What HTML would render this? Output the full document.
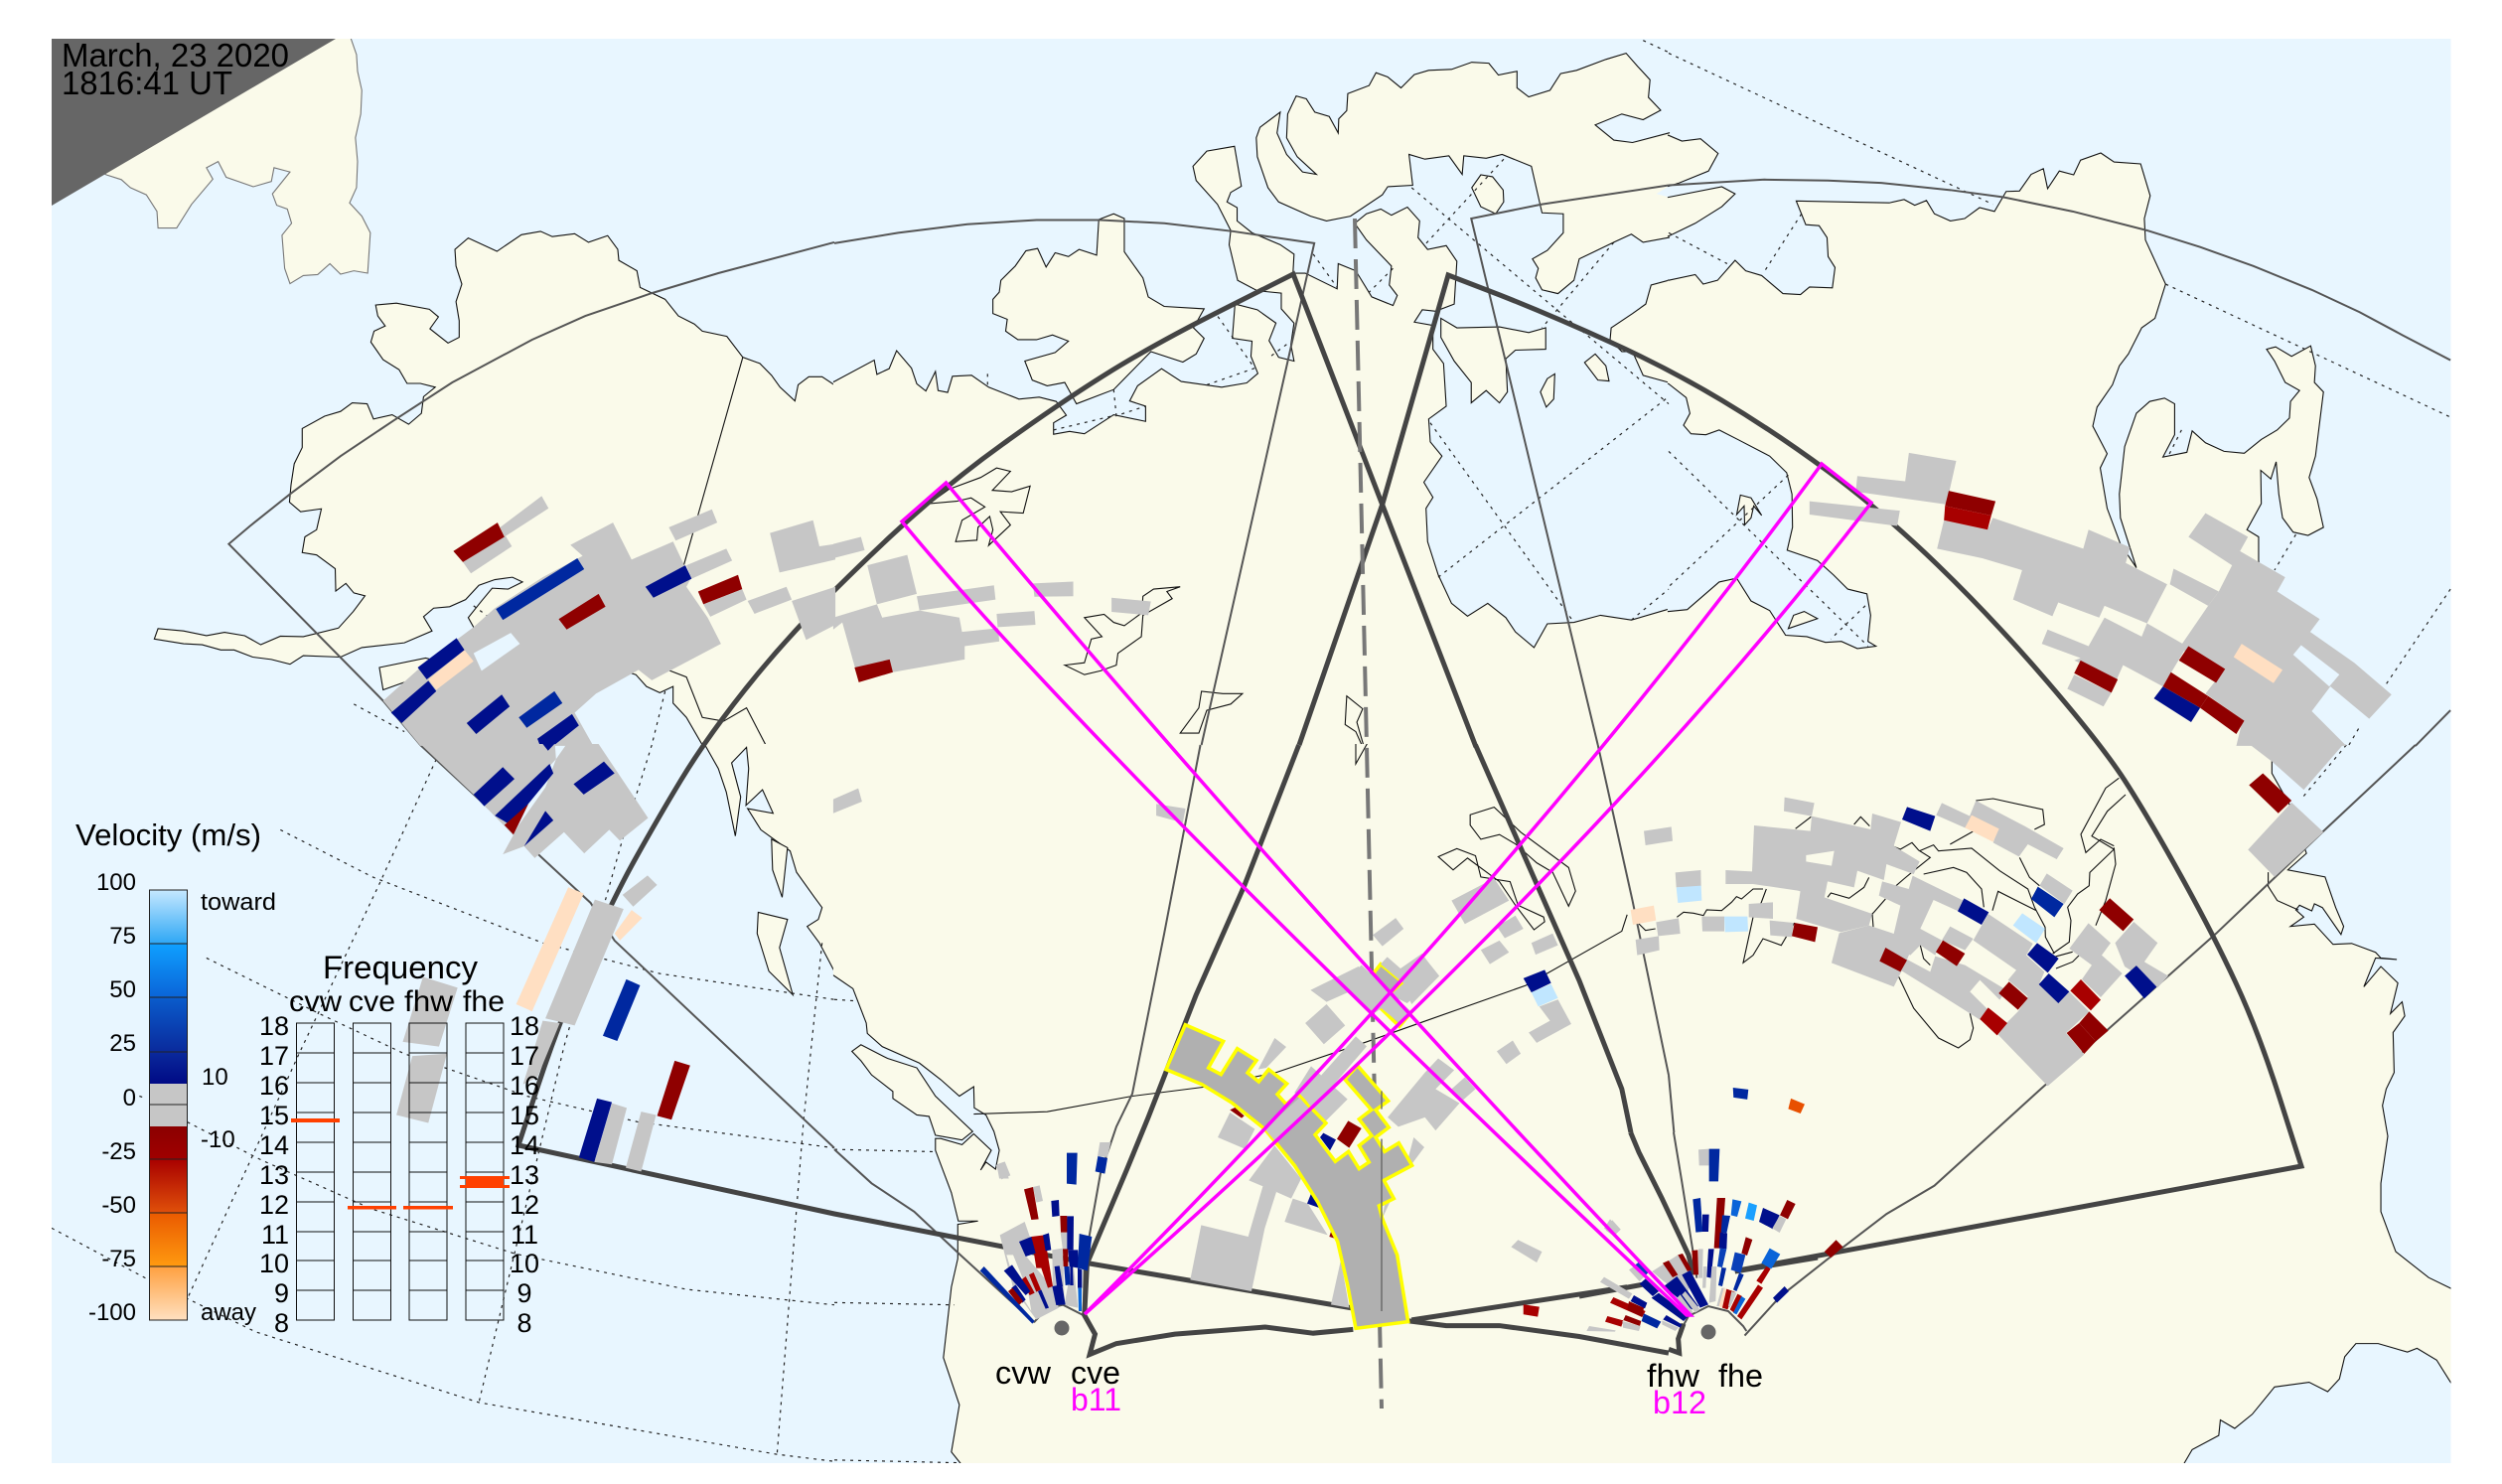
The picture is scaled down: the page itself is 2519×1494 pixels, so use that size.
<!DOCTYPE html>
<html><head><meta charset="utf-8"><style>
html,body{margin:0;padding:0;background:#fff}
svg{display:block}
polygon,polyline,path,line,circle{vector-effect:non-scaling-stroke}
text{font-family:"Liberation Sans",sans-serif;fill:#000}
.L polygon{fill:#fafaea;stroke:#111;stroke-width:1.1}
.L .O{fill:#e8f6ff;stroke:#111;stroke-width:1.1}
.L .W{fill:none;stroke:#111;stroke-width:1.1}
.D polyline{fill:none;stroke:#222;stroke-width:1.2;stroke-dasharray:3 5}
.T polyline{fill:none;stroke:#555;stroke-width:2}
.K polyline,.K path{fill:none;stroke:#444;stroke-width:5;stroke-linejoin:miter}
.g{fill:#c6c6c6}.n{fill:#000f8c}.b{fill:#0028a0}.r{fill:#8f0000}.p{fill:#ffdfc2}.c{fill:#c0e6ff}.e{fill:#fafaea}.o{fill:#e8f6ff}
.r2{fill:#a80000}.m{fill:#0a64d8}.s{fill:#1aa0ff}.b2{fill:#0a40b8}
.M path{fill:none;stroke:#ff00ff;stroke-width:3.5;stroke-linejoin:miter}
</style></head><body>
<svg width="2519" height="1494" viewBox="0 0 2519 1494" xmlns="http://www.w3.org/2000/svg">
<defs>
<clipPath id="map"><rect x="52" y="39" width="2415.5" height="1434"/></clipPath>
<clipPath id="cr"><rect x="-2" y="-2" width="1572" height="1572"/></clipPath>
</defs>
<rect width="2519" height="1494" fill="#fff"/>
<g clip-path="url(#map)">
<rect x="52" y="39" width="2416" height="1434" fill="#e8f6ff"/>

<!-- LAND -->
<g class="L">
<g transform="translate(0,0) scale(.5357,.4783)" clip-path="url(#cr)">
<polygon style="stroke:#777" points="653,60 670,115 672,150 680,190 678,240 668,290 672,340 670,395 657,427 680,455 696,490 691,575 665,570 640,577 620,555 597,578 570,580 545,597 535,565 530,495 548,470 540,440 520,432 512,408 545,362 515,353 510,382 476,393 425,373 410,340 388,353 400,377 360,430 332,480 297,480 295,445 275,410 245,395 228,378 200,368 150,340 500,60"/>
<polygon points="1600,815 1568,810 1545,793 1520,793 1500,810 1494,844 1466,815 1450,790 1428,765 1396,752 1366,708 1320,697 1305,682 1275,665 1250,630 1203,605 1197,570 1163,548 1161,525 1142,496 1106,510 1080,492 1038,498 1016,487 980,494 934,529 880,501 855,525 857,560 868,598 857,635 863,675 863,710 842,722 808,692 824,667 807,651 745,638 706,642 710,665 724,686 703,697 697,720 720,757 750,778 765,807 790,807 818,815 796,835 792,870 768,893 737,873 702,882 690,850 662,848 640,866 610,876 568,902 568,942 553,976 547,1020 544,1057 565,1077 604,1071 595,1115 573,1130 568,1163 595,1168 630,1197 631,1244 650,1228 665,1248 686,1254 664,1287 636,1322 570,1340 527,1339 490,1357 460,1338 422,1331 388,1338 345,1328 297,1323 290,1345 345,1355 380,1357 415,1368 440,1368 475,1383 510,1388 545,1398 570,1380 640,1383 680,1363 760,1353 812,1328 796,1298 815,1280 845,1277 875,1262 900,1232 930,1220 963,1215 982,1225 955,1240 925,1238 905,1265 880,1300 890,1320 1000,1350 1195,1420 1215,1445 1240,1458 1265,1445 1265,1480 1290,1510 1320,1568 1325,1600 1600,1600"/>
<polygon points="713,1405 800,1385 850,1400 720,1452"/>
<polyline class="W" points="1396,752 1285,1190"/>
<polyline class="W" points="1255,1410 1290,1425 1320,1510 1360,1518 1403,1490 1440,1570"/>
</g>
<g transform="translate(840,0) scale(.5357,.4783)" clip-path="url(#cr)">
<polygon points="-30,815 0,803 75,758 80,788 103,776 117,738 145,775 155,808 172,823 190,782 195,822 213,826 222,792 258,790 290,815 347,840 385,836 417,845 436,874 412,890 412,914 442,908 470,913 525,873 585,887 585,855 555,844 570,812 615,776 652,803 728,815 775,806 796,786 783,750 785,718 748,712 753,640 795,652 830,680 817,717 835,752 864,760 858,725 864,680 840,650 840,617 795,612 758,590 742,515 745,485 720,430 680,380 674,350 700,318 752,308 765,392 745,405 738,425 757,437 757,465 785,490 838,515 864,535 862,575 885,575 945,608 947,555 980,570 1010,625 1050,643 1058,622 1043,600 1047,560 1000,505 978,470 1000,450 1027,440 1047,453 1077,436 1100,465 1097,500 1115,525 1150,517 1170,550 1165,640 1130,655 1105,652 1090,678 1125,685 1125,735 1145,765 1150,855 1117,882 1120,930 1142,960 1108,1015 1125,1047 1112,1070 1115,1140 1135,1210 1160,1270 1190,1297 1228,1270 1262,1300 1280,1330 1315,1363 1340,1313 1390,1310 1440,1295 1498,1305 1568,1282 1600,1275 1600,1600 -30,1600"/>
<polygon points="455,850 525,820 595,740 655,762 680,745 695,712 675,690 695,650 620,645 590,625 580,585 545,530 545,460 525,450 497,462 493,537 460,525 440,540 415,532 398,562 382,523 360,528 340,560 313,590 310,615 298,630 298,660 325,672 322,697 345,715 380,715 410,705 440,718 415,742 358,760 372,800 400,812 433,805"/>
<polygon points="1600,270 1568,280 1500,300 1465,295 1430,263 1480,240 1520,252 1553,232 1530,205 1533,168 1510,140 1488,112 1450,125 1395,148 1365,155 1345,190 1305,204 1283,185 1283,150 1248,158 1230,133 1198,131 1160,146 1117,148 1090,157 1065,185 1040,162 1018,153 1005,180 965,197 963,233 948,250 947,280 930,245 903,236 887,208 868,202 852,240 850,290 870,330 906,367 880,362 850,325 832,280 838,236 800,268 793,290 795,330 815,395 835,425 895,455 925,465 970,455 1030,410 1040,393 1087,390 1080,325 1110,335 1155,328 1180,367 1183,328 1225,333 1255,325 1310,350 1330,448 1370,450 1370,490 1340,527 1312,545 1323,565 1318,585 1330,610 1360,618 1390,590 1400,545 1465,510 1498,493 1520,510 1568,500 1600,495"/>
<polygon class="O" style="stroke:none" points="1600,388 1568,392 1545,408 1568,415 1600,415"/>
<polygon points="1600,590 1568,590 1535,600 1525,640 1500,660 1460,690 1458,715 1480,740 1500,740 1520,790 1568,805 1600,815"/>
<polygon points="1140,670 1170,690 1250,688 1305,700 1337,690 1337,735 1280,737 1262,755 1265,825 1250,848 1225,822 1197,848 1197,805 1165,760 1140,710"/>
<polygon points="1410,763 1430,745 1450,770 1456,802 1435,800"/>
<polygon points="1327,825 1340,797 1354,787 1352,840 1338,857"/>
<polygon points="1198,395 1215,368 1237,372 1257,400 1258,425 1243,450 1215,435"/>
<polygon class="W" points="178,1060 215,1030 275,1005 305,985 331,992 297,1032 333,1035 368,1023 355,1080 312,1077 331,1105 290,1148 298,1115 292,1087 270,1110 268,1137 228,1140 240,1095 283,1067 257,1048 230,1055"/>
<polygon class="W" points="433,1400 470,1395 483,1345 503,1340 470,1300 507,1293 525,1310 545,1317 578,1290 580,1255 600,1240 650,1235 625,1245 635,1260 580,1295 577,1340 533,1375 530,1400 500,1412 470,1420"/>
<polygon class="W" points="650,1543 685,1490 690,1455 730,1460 767,1460 745,1482 700,1495 685,1543"/>
<polygon class="W" points="963,1465 993,1492 982,1520 1000,1590 980,1540 960,1525"/>
</g>
<g transform="translate(1680,0) scale(.5351,.4783)" clip-path="url(#cr)">
<polygon points="-30,585 0,590 50,578 65,598 92,590 125,548 145,570 175,580 215,618 248,620 265,604 308,606 313,563 300,540 298,500 283,475 258,473 240,423 330,425 415,427 443,420 463,432 485,422 500,450 530,465 557,460 585,437 613,445 635,403 660,402 682,367 705,355 713,397 735,360 762,368 775,337 813,322 838,341 888,345 906,412 895,460 897,505 935,598 915,670 890,690 865,745 848,770 835,810 806,857 798,897 825,955 812,985 825,1070 850,1145 880,1195 850,1090 848,1040 858,940 880,870 905,845 933,838 952,850 952,915 930,962 975,952 985,907 1010,932 1045,950 1083,954 1115,925 1145,905 1168,880 1170,845 1187,822 1160,805 1140,760 1125,735 1142,730 1172,750 1208,728 1217,770 1215,805 1232,825 1217,960 1205,1005 1220,1050 1232,1110 1203,1127 1175,1120 1155,1090 1148,1040 1143,972 1133,1008 1114,990 1115,1060 1088,1115 1110,1130 1110,1180 1115,1240 1150,1300 1160,1340 1160,1500 1135,1568 1135,1600 -30,1600"/>
<polygon class="O" points="-30,800 0,808 33,837 40,870 28,895 42,913 70,915 95,905 130,925 190,960 222,995 232,1040 233,1110 223,1158 280,1180 310,1210 337,1240 373,1250 380,1295 375,1350 390,1360 355,1365 325,1350 295,1352 260,1340 220,1337 190,1285 155,1265 128,1217 95,1225 35,1283 0,1287 -30,1290"/>
<polygon points="-30,280 0,285 25,297 60,292 93,323 75,360 20,385 0,392 -30,395"/>
<polygon points="-30,420 0,415 100,393 125,408 100,435 50,470 0,497 -30,500"/>
<polygon points="225,1323 235,1295 255,1287 280,1302"/>
<polygon points="128,1083 135,1042 155,1048 175,1085 160,1065 155,1090 143,1105 142,1065"/>
</g>
<g transform="translate(0,750) scale(.5357,.4745)" clip-path="url(#cr)">
<polygon points="1320,-30 1325,0 1350,50 1365,100 1382,193 1392,110 1375,38 1403,5 1407,50 1402,128 1433,95 1453,145 1405,135 1430,180 1485,225 1497,270 1530,322 1545,345 1538,370 1517,385 1540,420 1568,480 1600,510 1600,-30"/>
<polygon points="1450,200 1480,218 1470,323 1452,265"/>
<polygon points="1425,355 1480,370 1465,430 1490,530 1445,480 1423,400"/>
</g>
<g transform="translate(840,750) scale(.5357,.4745)" clip-path="url(#cr)">
<polygon points="-30,470 0,490 35,517 60,590 62,612 90,640 160,675 200,710 235,745 262,725 263,770 285,785 300,820 310,860 303,900 285,885 275,902 295,860 262,825 240,848 200,835 190,835 190,860 220,950 233,1010 270,1010 232,1017 232,1090 220,1150 205,1300 235,1400 220,1500 237,1524 240,1600 1600,1600 1600,-30 -30,-30"/>
<polygon points="33,650 50,636 100,665 155,685 190,745 260,820 240,838 190,828 178,788 155,785 110,750 110,735 70,700 50,670"/>
<polygon class="W" points="980,-10 1005,-10 980,40"/>
<polygon class="W" points="1195,148 1240,132 1290,185 1380,260 1393,310 1380,342 1350,270 1320,250 1280,210 1250,190 1215,200 1195,170"/>
<polygon class="W" points="1135,237 1170,220 1205,235 1215,280 1270,290 1285,340 1333,365 1335,375 1315,392 1280,340 1250,290 1190,240 1163,265"/>
<polyline class="W" points="262,783 400,778 560,745 700,725 830,695 1000,630 1100,590 1300,510 1480,395 1490,360"/>
</g>
<g transform="translate(1680,750) scale(.5351,.4745)" clip-path="url(#cr)">
<polygon points="-30,-30 1135,-30 1135,60 1170,130 1200,230 1165,265 1235,280 1255,345 1270,385 1265,402 1230,345 1215,337 1210,352 1187,340 1180,350 1195,365 1170,385 1215,380 1250,423 1285,421 1330,440 1340,452 1370,455 1330,452 1308,513 1340,470 1372,505 1358,570 1380,545 1385,575 1363,610 1365,695 1350,730 1343,765 1353,830 1340,930 1340,990 1368,1075 1430,1130 1470,1152 1500,1170 1500,1400 1470,1350 1445,1305 1408,1280 1390,1288 1335,1270 1293,1270 1272,1298 1262,1345 1240,1372 1205,1352 1140,1362 1098,1420 1065,1450 1038,1432 1035,1465 985,1495 970,1524 965,1600 -30,1600"/>
<polyline class="W" points="1128,270 1128,300 1145,330 1185,350"/>
</g>
<g transform="translate(1640,780) scale(.33333)">
<polyline class="W" points="503,163 550,127"/>
<polyline class="W" points="680,150 700,127 727,155"/>
<polyline class="W" points="795,215 820,225 855,205 875,228 910,250 860,290 830,315 807,335"/>
<polyline class="W" points="878,230 920,212 935,230 1035,222 1120,290 1205,345 1225,400 1257,460 1258,490 1285,540"/>
<polyline class="W" points="970,210 1050,165"/>
<polyline class="W" points="1180,250 1210,310 1240,335"/>
<polyline class="W" points="890,300 980,280 1020,295 1065,345 1072,400"/>
<polyline class="W" points="1098,410 1115,352 1230,410"/>
<polyline class="W" points="775,375 740,415 735,420 738,460"/>
<polyline class="W" points="600,370 610,357 665,373 710,340 725,310"/>
<polyline class="W" points="415,345 400,385 375,430 345,568 375,545 405,495 460,515 500,447"/>
<polyline class="W" points="30,450 50,470 80,465"/>
<polyline class="W" points="145,430 165,415 195,418 225,425 235,408 280,410 310,385 325,368 340,375 375,345 405,345"/>
<polyline class="W" points="880,515 890,555 910,575"/>
<polyline class="W" points="815,610 860,705 935,795 995,825 1030,800 1040,765 1030,720"/>
<polyline class="W" points="1280,540 1330,505 1335,440 1325,400 1355,360 1390,335 1392,295 1465,225 1398,185 1445,110 1500,60"/>
<polyline class="W" points="1465,220 1470,270 1440,380 1410,455"/>
<polyline class="W" points="1465,215 1425,195 1380,235 1365,180 1440,40 1480,10"/>
<polyline class="W" points="1290,585 1340,565 1360,545"/>
<polyline class="W" points="1285,550 1340,535"/>
<polyline class="W" points="1048,78 1100,72 1250,105 1255,150 1225,165"/>
</g>
</g>

<!-- GRATICULE -->
<g class="D">
<g transform="translate(0,0) scale(.5357,.4783)">
<polyline points="665,1482 760,1540"/><polyline points="1250,1455 1225,1568"/><polyline points="890,1275 920,1300"/>
</g>
<g transform="translate(840,0) scale(.5357,.4783)">
<polyline points="288,787 288,815"/><polyline points="1120,890 1390,1310"/><polyline points="1135,1215 1568,835"/><polyline points="1085,395 1568,850"/><polyline points="1258,335 1110,515"/><polyline points="900,535 945,605"/><polyline points="1050,565 1005,615"/><polyline points="1465,510 1330,690"/><polyline points="700,810 790,775 720,665"/><polyline points="412,905 525,875"/><polyline points="525,820 530,875 585,855"/><polyline points="850,725 820,750"/><polyline points="1520,85 1568,110"/><polyline points="1498,1305 1568,1240"/>
</g>
<g transform="translate(1680,0) scale(.5351,.4783)">
<polyline points="0,112 610,430"/><polyline points="0,490 110,555"/><polyline points="250,450 178,575"/><polyline points="935,598 1471,878"/><polyline points="225,1000 0,1235"/><polyline points="0,950 375,1360"/><polyline points="370,1275 305,1345"/><polyline points="965,905 940,960"/><polyline points="1180,1125 1140,1200"/><polyline points="1471,1240 1350,1440"/><polyline points="1280,1568 1300,1530"/>
</g>
<g transform="translate(0,750) scale(.5357,.4745)">
<polyline points="527,180 700,280 1020,420 1240,485 1568,540"/>
<polyline points="388,452 600,570 760,655 990,745 1200,800 1568,855"/>
<polyline points="352,800 490,880 700,985 970,1080 1290,1155 1568,1188"/>
<polyline points="97,1025 280,1135 480,1245 900,1395 1460,1505 1568,1520"/>
<polyline points="820,30 715,290 560,660 350,1180"/>
<polyline points="1225,0 1170,200 1060,640 900,1395"/>
<polyline points="1545,420 1510,800 1460,1510"/>
<polyline points="262,745 275,750"/>
</g>
<g transform="translate(840,750) scale(.5357,.4745)">
<polyline points="0,540 40,543"/><polyline points="0,858 190,863"/><polyline points="0,1183 225,1188"/><polyline points="0,1517 235,1523"/>
</g>
<g transform="translate(1680,750) scale(.5351,.4745)">
<polyline points="1275,0 1190,115"/>
</g>
</g>

<!-- THIN FOV -->
<g class="T">
<g transform="translate(0,0) scale(.5357,.4783)"><polyline points="1568,510 1350,575 1225,617 1100,665 1000,715 850,805 740,885 640,960 545,1040 470,1107 430,1145 720,1475 790,1568"/></g>
<g transform="translate(840,0) scale(.5357,.4783)"><polyline points="0,512 120,490 250,472 380,463 500,463 620,470 750,487 902,512 690,1568"/><polyline points="1568,390 1330,430 1197,460 1435,1568"/></g>
<g transform="translate(1680,0) scale(.5351,.4783)"><polyline points="0,390 180,378 300,380 400,385 530,400 630,415 760,445 900,485 1000,520 1100,560 1210,610 1300,657 1380,705 1471,758"/><polyline points="1471,1495 1405,1570"/></g>
<g transform="translate(0,750) scale(.5357,.4745)"><polyline points="790,0 1110,335 1155,415 1568,855"/></g>
<g transform="translate(840,750) scale(.5357,.4745)"><polyline points="0,858 70,930 150,990 235,1080 375,1225"/><polyline points="688,0 620,400 560,740 530,810 500,910 470,1100 468,1210"/><polyline points="1435,0 1500,330 1568,700"/></g>
<g transform="translate(1680,750) scale(.5351,.4745)"><polyline points="0,700 10,822"/><polyline points="1405,0 1230,185 1030,400 700,730 500,935 410,995 300,1090 210,1170 143,1253"/></g>
<g transform="translate(1590,1140) scale(.33333)"><polyline points="285,0 310,150 345,370 355,440"/><polyline points="305,600 330,555 390,525 450,540 495,585 505,600"/></g>
<g transform="translate(840,750) scale(.5357,.4745)"><polyline points="375,1225 400,1195 430,1188 468,1210"/></g>
</g>

<!-- THICK -->
<g class="K">
<path d="M1486 752 L1302 276 L1231.5 311.5 Q1161 347 1113 377 Q1065 407 1009 447.5 Q952.5 488 896 540.5 Q840 593 805 630.5 Q770 668 738.5 709 Q707 750 685.5 785.5 Q664 821 640 864 Q616 907 589 968.5 Q562.5 1030 542 1092 L522 1153 L840 1222 L1097 1272 L1362 1317"/>
<path d="M1308 750 L1392 507 L1458 277 L1510 297 Q1563 318 1621.5 344.5 Q1680 371 1733.5 403 Q1787 435 1840.5 474.5 Q1894 514 1950 568 Q2006 622 2061 686 Q2116 750 2139 785.5 Q2162 821 2195 880.5 Q2228 940 2251 989.5 Q2274 1039 2295.5 1106.5 L2317 1174 L1750 1279"/>
<g transform="translate(840,750) scale(.5357,.4745)">
<polyline points="873,0 770,300 680,530 590,790 550,900 475,1100 470,1210 490,1250 480,1293 530,1270 640,1250 810,1235 900,1248 975,1240"/>
<polyline points="1205,0 1400,500 1480,730 1497,822"/>
<polyline points="1085,1220 1490,1150"/>
<polyline points="1080,1222 1150,1232 1250,1232 1400,1255 1568,1290"/>
</g>
<g transform="translate(1680,750) scale(.5351,.4745)"><polyline points="0,1282 20,1290 18,1260 28,1228"/></g>
<g transform="translate(1590,1140) scale(.33333)"><polyline points="155,0 180,60 250,200 330,370 345,430"/><polyline points="0,495 190,460"/><polyline points="720,378 470,420"/></g>
</g>

<!-- ECHOES C1 -->
<g transform="translate(0,0) scale(.5357,.4783)">
<polygon class="g" points="940,1110 1018,1044 1031,1070 948,1130"/>
<polygon class="g" points="870,1183 950,1128 962,1150 885,1207"/>
<polygon class="r" points="852,1160 935,1100 948,1130 870,1183"/>
<polygon class="g" points="720,1475 785,1410 860,1345 890,1320 930,1280 1020,1215 1095,1170 1072,1147 1152,1100 1187,1178 1265,1140 1298,1218 1290,1235 1330,1300 1355,1355 1225,1432 1200,1410 1120,1460 1080,1500 1115,1570 790,1570"/>
<polygon class="o" points="890,1375 960,1332 977,1355 905,1412"/>
<polygon class="b" points="932,1282 1085,1175 1098,1198 945,1305"/>
<polygon class="r" points="1050,1303 1125,1250 1138,1277 1065,1325"/>
<polygon class="n" points="1213,1235 1288,1190 1300,1218 1228,1258"/>
<polygon class="r" points="1312,1245 1387,1210 1395,1240 1322,1272"/>
<polygon class="g" points="1257,1110 1338,1072 1348,1100 1270,1138"/>
<polygon class="g" points="1290,1190 1365,1155 1376,1180 1300,1218"/>
<polygon class="g" points="1322,1272 1395,1240 1403,1262 1335,1298"/>
<polygon class="g" points="1405,1265 1478,1235 1488,1262 1418,1292"/>
<polygon class="g" points="1447,1122 1528,1095 1540,1150 1570,1145 1570,1178 1465,1205"/>
<polygon class="g" points="1488,1265 1570,1235 1570,1315 1515,1347"/>
<polygon class="n" points="785,1405 858,1343 873,1368 802,1430"/>
<polygon class="p" points="805,1430 873,1368 890,1392 820,1452"/>
<polygon class="n" points="735,1500 805,1433 820,1455 755,1522"/>
<polygon class="n" points="877,1522 943,1462 958,1487 895,1545"/>
<polygon class="b" points="975,1510 1042,1455 1057,1480 990,1532"/>
<polygon class="n" points="1010,1555 1075,1503 1088,1527 1040,1570 1015,1570"/>
</g>
<!-- ECHOES C2 -->
<g transform="translate(840,0) scale(.5357,.4783)">
<polygon class="g" points="-2,1145 50,1130 57,1158 -2,1175"/>
<polygon class="g" points="62,1190 137,1168 155,1250 80,1272"/>
<polygon class="g" points="155,1255 300,1232 303,1262 160,1285"/>
<polygon class="g" points="305,1292 376,1286 378,1315 307,1320"/>
<polygon class="g" points="373,1228 449,1224 449,1255 376,1256"/>
<polygon class="g" points="521,1258 595,1266 590,1295 521,1288"/>
<polygon class="g" points="-2,1300 80,1272 90,1300 160,1285 235,1300 240,1330 308,1322 310,1350 245,1360 245,1388 110,1415 40,1410 15,1310 -2,1325"/>
<polygon class="r" points="38,1405 104,1388 110,1415 46,1436"/>
</g>
<!-- ECHOES C3 -->
<g transform="translate(1680,0) scale(.5351,.4783)">
<polygon class="g" points="265,1055 435,1075 430,1107 265,1083"/>
<polygon class="g" points="355,1002 445,1013 452,953 541,970 528,1035 525,1062 352,1035"/>
<polygon class="g" points="505,1155 518,1095 600,1115 610,1090 780,1155 790,1115 868,1152 860,1185 938,1230 900,1312 820,1275 810,1300 733,1268 722,1297 648,1262 665,1200 590,1175"/>
<polygon class="r" points="527,1033 615,1055 607,1085 520,1065"/>
<polygon class="r2" points="520,1065 607,1085 600,1115 518,1095"/>
<polygon class="g" points="702,1355 713,1325 790,1360 820,1300 890,1340 900,1312 975,1360 930,1445 855,1400 843,1430 763,1390 775,1385"/>
<polygon class="g" points="750,1450 763,1420 833,1458 818,1487"/>
<polygon class="r" points="763,1417 775,1390 845,1430 833,1458"/>
<polygon class="g" points="943,1230 950,1197 1035,1245 1015,1275"/>
<polygon class="g" points="978,1130 1010,1080 1090,1130 1075,1160 1160,1215 1145,1245 1225,1303 1207,1330 1290,1395 1360,1462 1318,1513 1245,1445 1210,1497 1275,1570 1068,1570 1080,1515 1010,1460 1045,1410 960,1365 1015,1275 1035,1245 1060,1190"/>
<polygon class="o" points="1175,1378 1190,1358 1262,1420 1243,1445"/>
<polygon class="p" points="1063,1383 1078,1355 1155,1410 1138,1438"/>
<polygon class="r" points="960,1390 978,1360 1047,1408 1030,1437"/>
<polygon class="r" points="930,1445 945,1415 1015,1465 1000,1490"/>
<polygon class="r" points="1000,1490 1015,1465 1083,1517 1068,1545"/>
<polygon class="n" points="913,1470 930,1445 1000,1490 983,1520"/>
</g>
<!-- ECHOES C4 -->
<g transform="translate(0,750) scale(.5357,.4745)">
<polygon class="g" points="790,-2 1043,-2 1045,30 1000,85 1040,55 990,130 965,192 948,172 890,105"/>
<polygon class="g" points="1045,30 1065,-2 1125,-2 1218,155 1165,203 1145,180 1098,230 1060,185 1005,240 985,215 945,232 975,170 1025,90"/>
<polygon class="n" points="1020,-2 1042,-2 1030,12"/>
<polygon class="n" points="890,105 945,47 967,72 910,130"/>
<polygon class="n" points="930,150 1033,40 1040,60 960,170"/>
<polygon class="r" points="948,170 993,125 965,190"/>
<polygon class="n" points="985,215 1025,140 1040,160"/>
<polygon class="n" points="1078,83 1135,35 1155,60 1097,105"/>
<polygon class="g" points="1170,318 1217,277 1235,297 1190,343"/>
<polygon class="p" points="1155,400 1187,350 1207,367 1165,415"/>
<polygon class="p" points="970,550 1068,302 1097,315 1000,565"/>
<polygon class="g" points="1025,580 1118,328 1172,348 1080,595"/>
<polygon class="g" points="1020,585 1052,590 1010,705 983,720"/>
<polygon class="b" points="1133,617 1177,497 1203,510 1160,628"/>
<polygon class="r" points="1235,787 1268,670 1297,680 1262,795"/>
<polygon class="n" points="1088,875 1122,750 1150,758 1117,885"/>
<polygon class="g" points="1117,885 1150,760 1178,770 1150,890"/>
<polygon class="g" points="1176,897 1205,778 1233,785 1205,905"/>
<polygon class="g" points="745,785 775,660 840,655 805,802"/>
<polygon class="g" points="757,630 795,492 860,515 825,640"/>
</g>
<!-- ECHOES C5 -->
<g transform="translate(840,750) scale(.5357,.4745)">
<polygon class="g" points="-2,115 45,92 52,120 -2,145"/>
<polygon class="g" points="605,125 660,135 655,165 605,150"/>
<polygon class="g" points="1160,330 1240,283 1268,330 1185,380"/>
<polygon class="g" points="1012,403 1055,367 1070,390 1030,427"/>
<polygon class="g" points="1245,385 1280,362 1295,390 1260,410"/>
<polygon class="g" points="1215,435 1250,415 1268,440 1232,465"/>
<polygon class="g" points="1310,420 1350,400 1360,425 1318,445"/>
<polygon class="g" points="895,520 985,470 1025,515 1005,565 965,525 925,545"/>
<polygon class="g" points="1060,490 1105,445 1137,490 1085,550"/>
<polygon class="g" points="885,590 925,550 960,595 920,635"/>
<polygon class="g" points="1245,650 1275,627 1290,655 1263,677"/>
<polygon class="n" points="1295,495 1335,477 1347,505 1310,525"/>
<polygon class="c" points="1310,525 1347,507 1360,537 1323,555"/>
<polygon class="g" points="1325,555 1360,540 1385,592 1320,632 1305,610 1345,585"/>
<polygon class="g" points="1040,790 1110,695 1135,665 1165,690 1130,730 1175,760 1130,818 1110,790 1060,810"/>
<polygon class="g" points="1160,730 1185,705 1205,730 1180,755"/>
<polygon class="g" points="1450,1030 1462,1008 1478,1028 1465,1042"/>
<polygon class="g" points="1272,1065 1285,1050 1330,1075 1320,1098"/>
<polygon class="r2" points="1295,1187 1325,1192 1322,1213 1295,1208"/>
<polygon class="g" points="318,885 328,920 310,920 305,890"/>
</g>
<!-- ECHOES C6 -->
<g transform="translate(1680,750) scale(.5351,.4745)">
<polygon class="g" points="1092,-2 1270,-2 1195,95 1135,35"/>
<polygon class="r" points="1092,85 1118,60 1172,118 1147,145"/>
<polygon class="g" points="1090,222 1172,122 1232,185 1140,280"/>
<polygon class="r" points="293,1075 315,1050 328,1065 305,1088"/>
<polygon class="b" points="121,727 150,731 148,752 122,748"/>
<polygon style="fill:#e85000" points="230,750 256,762 248,782 225,772"/>
<polygon class="g" points="840,420 875,375 920,420 895,460 940,490 920,515 858,470"/>
<polygon class="r" points="810,350 830,325 875,370 855,395"/>
<polygon class="n" points="858,490 880,468 918,513 895,538"/>
</g>
<!-- RIGHT ARC -->
<g transform="translate(1640,780) scale(.33333)">
<polygon class="g" points="470,68 560,85 552,125 468,110"/>
<polygon class="g" points="45,170 128,157 132,200 50,213"/>
<polygon class="g" points="140,295 217,288 218,337 143,340"/>
<polygon class="c" points="143,340 218,335 220,380 148,387"/>
<polygon class="g" points="292,288 372,292 378,153 548,170 552,125 730,165 735,117 822,143 800,215 878,262 860,300 778,270 770,318 690,290 680,340 600,322 590,372 510,350 375,330 292,330"/>
<polygon class="e" points="535,243 620,230 612,275 535,262"/>
<polygon class="g" points="505,435 518,350 590,370 735,420 725,455 640,475"/>
<polygon class="g" points="725,455 800,480 860,510 835,570 815,610 800,640 612,568 635,478"/>
<polygon class="g" points="755,365 765,322 845,345 857,305 1010,380 995,412 920,378 880,465 945,500 925,545 880,515 850,545 790,520 800,480 820,395"/>
<polygon class="g" points="970,458 1040,495 1015,530 945,500"/>
<polygon class="g" points="820,590 835,555 910,595 925,548 1015,575 1140,650 1120,680 1060,620 1030,655 1085,710 1060,740 950,670"/>
<polygon class="g" points="1085,420 1220,510 1200,545 1255,595 1240,630 1330,655 1390,715 1320,780 1375,845 1265,940 1115,785 1145,745 1175,715 1205,670 1145,620 1170,590 1040,500"/>
<polygon class="g" points="1330,525 1388,448 1455,508 1428,545 1490,600 1425,672 1368,618 1398,575"/>
<polygon class="g" points="1240,335 1262,298 1340,350 1315,390"/>
<polygon class="g" points="928,122 945,85 1030,125 1015,160"/>
<polygon class="g" points="1015,160 1048,78 1195,155 1313,222 1292,255 1205,210 1178,247 1100,205 1115,165"/>
<polygon class="g" points="362,390 435,385 435,435 362,430"/>
<polygon class="g" points="425,440 497,447 492,490 427,485"/>
<polygon class="g" points="220,428 288,428 288,473 222,473"/>
<polygon class="g" points="82,445 150,433 155,480 88,487"/>
<polygon class="g" points="20,498 90,487 92,530 25,545"/>
<polygon class="n" points="825,135 840,97 925,125 910,170"/>
<polygon class="p" points="1015,160 1035,122 1118,163 1100,203"/>
<polygon class="b" points="1215,375 1235,338 1313,390 1285,430"/>
<polygon class="n" points="993,412 1012,373 1087,415 1065,453"/>
<polygon class="c" points="1160,455 1188,418 1257,465 1230,508"/>
<polygon class="n" points="1203,543 1233,508 1298,555 1265,598"/>
<polygon class="n" points="1238,633 1268,600 1330,655 1297,690"/>
<polygon class="r2" points="1333,652 1365,618 1425,680 1395,712"/>
<polygon class="r" points="927,535 948,500 1015,540 990,578"/>
<polygon class="r" points="757,563 775,522 840,560 820,595"/>
<polygon class="r" points="1117,660 1148,625 1205,675 1175,710"/>
<polygon class="r2" points="1060,738 1085,703 1143,750 1112,787"/>
<polygon class="r" points="1322,780 1360,750 1410,805 1375,843"/>
<polygon class="r" points="1360,750 1390,715 1448,773 1410,805"/>
<polygon class="r" points="492,487 500,447 570,460 562,505"/>
<polygon class="p" points="5,408 75,395 82,440 12,453"/>
<polygon class="c" points="288,428 358,428 360,473 290,475"/>
</g>

<!-- FAN cve -->
<g transform="translate(980,1140) scale(.33333)">
<polygon class="g" points="80,310 155,270 172,320 160,375 240,470 258,530 190,565 120,470"/>
<polygon class="e" points="100,370 130,470 175,540 165,480 120,370"/>
<polygon class="g" points="238,355 270,350 275,520 300,380 316,530 278,522 240,470"/>
<polygon class="g" points="263,302 286,302 286,355 270,355"/>
<polygon class="g" points="68,100 95,88 112,130 85,142"/>
<polygon class="g" points="180,165 200,160 210,207 190,212"/>
<polygon class="g" points="382,30 415,30 405,75 375,72"/>
<polygon class="b" points="376,72 405,78 397,125 368,118"/>
<polygon class="b" points="282,62 314,62 311,158 282,155"/>
<polygon class="n" points="235,207 258,204 260,252 238,255"/>
<polygon class="r" points="153,172 180,165 197,262 175,264"/>
<polygon class="r" points="262,252 283,252 285,302 264,302"/>
<polygon class="n" points="283,253 303,253 302,355 283,355"/>
<polygon class="r2" points="175,315 215,310 240,465 225,470 205,410 190,410"/>
<polygon class="n" points="138,330 175,315 188,365 158,375"/>
<polygon class="n" points="210,310 228,304 235,355 218,358"/>
<polygon class="r" points="270,352 286,352 286,405 272,405"/>
<polygon class="n" points="286,355 316,355 318,410 290,405"/>
<polygon class="b" points="274,405 290,405 292,460 278,462"/>
<polygon class="n" points="292,405 300,405 302,462 292,462"/>
<polygon class="b" points="320,306 358,315 345,418 315,410"/>
<polygon class="n" points="315,410 328,415 328,470 315,470"/>
<polygon class="m" points="316,470 327,470 327,540 318,540"/>
<polygon class="n" points="245,405 260,403 270,465 252,465"/>
<polygon class="n" points="238,465 268,460 278,520 250,522"/>
<polygon class="n" points="195,480 205,475 228,530 218,533"/>
<polygon class="r2" points="168,430 182,423 204,475 190,482"/>
<polygon class="r2" points="145,445 158,435 185,485 170,492"/>
<polygon class="n" points="92,418 117,400 172,480 158,492"/>
<polygon class="n" points="115,470 128,460 158,505 148,515"/>
<polygon class="r" points="105,480 118,470 150,510 138,522"/>
<polygon class="b" points="20,418 32,405 185,570 178,578"/>
</g>

<!-- FAN fhw/fhe -->
<g transform="translate(1590,1140) scale(.33333)">
<polygon class="g" points="360,52 392,50 392,100 362,100"/>
<polygon class="b" points="392,50 424,50 420,148 392,148"/>
<polygon class="b" points="343,202 366,198 373,300 352,302"/>
<polygon class="n" points="372,248 392,248 390,300 372,300"/>
<polygon class="r" points="416,198 441,198 430,350 407,350"/>
<polygon class="b" points="432,250 456,252 445,305 428,302"/>
<polygon class="n" points="425,302 447,305 445,352 422,350"/>
<polygon class="m" points="463,202 490,208 477,255 458,250"/>
<polygon class="s" points="512,212 537,220 527,267 501,260"/>
<polygon class="n" points="555,228 605,250 585,292 543,270"/>
<polygon class="g" points="605,252 625,262 605,303 583,290"/>
<polygon class="r" points="628,204 653,216 630,262 606,250"/>
<polygon class="r" points="503,316 523,324 507,372 490,365"/>
<polygon class="b2" points="425,350 445,352 432,408 417,405"/>
<polygon class="b2" points="470,362 502,370 488,425 458,415"/>
<polygon class="m" points="575,350 607,368 580,412 550,395"/>
<polygon class="r2" points="565,405 578,412 550,458 535,448"/>
<polygon class="r2" points="540,460 555,470 490,565 477,555"/>
<polygon class="n" points="620,465 633,480 597,515 585,500"/>
<polygon class="b" points="430,408 444,410 432,465 420,462"/>
<polygon class="b" points="483,424 497,430 475,480 465,475"/>
<polygon class="g" points="360,352 374,352 372,440 360,440"/>
<polygon class="r" points="340,357 358,355 360,430 345,430"/>
<polygon class="n" points="390,352 407,352 398,440 385,437"/>
<polygon class="g" points="400,405 415,405 412,510 392,515"/>
<polygon class="g" points="375,405 385,405 382,470 372,470"/>
<polygon class="g" points="220,420 298,370 340,430 325,500 255,450"/>
<polygon class="r" points="298,370 312,366 340,415 327,420"/>
<polygon class="r" points="252,395 270,387 298,430 282,438"/>
<polygon class="b2" points="163,405 182,390 212,420 195,437"/>
<polygon class="g" points="75,290 93,262 122,292 105,312"/>
<polygon class="g" points="150,415 165,405 195,437 182,450"/>
<polygon class="g" points="63,452 75,437 160,487 150,503"/>
<polygon class="n" points="182,458 200,442 240,480 222,495"/>
<polygon class="n" points="310,430 335,417 390,520 365,530"/>
<polygon class="n" points="255,465 295,435 360,525 340,535"/>
<polygon class="g" points="310,490 320,480 365,535 350,545"/>
<polygon class="n" points="218,500 240,485 330,555 315,570"/>
<polygon class="g" points="290,505 305,490 345,545 330,550"/>
<polygon class="n" points="155,510 165,492 205,515 198,532"/>
<polygon class="r2" points="93,515 103,498 200,540 190,558"/>
<polygon class="r" points="150,510 195,530 190,558 145,535"/>
<polygon class="b" points="195,547 247,572 235,592 188,570"/>
<polygon class="r2" points="78,572 85,555 133,568 127,587"/>
<polygon class="r" points="133,567 140,552 187,570 183,585"/>
<polygon class="g" points="130,570 185,585 180,600 132,590"/>
<polygon class="g" points="22,600 30,585 110,598 108,602"/>
<polygon class="n" points="253,565 263,552 310,580 305,590"/>
<polygon class="g" points="250,568 300,590 290,600 250,580"/>
<polygon class="g" points="430,470 440,470 425,525 415,525"/>
<polygon class="p" points="437,470 448,475 432,530 422,525"/>
<polygon class="r2" points="445,473 470,482 448,535 432,530"/>
<polygon class="g" points="460,480 475,485 455,530 450,525"/>
<polygon class="r2" points="478,488 492,495 468,545 455,535"/>
<polygon class="m" points="490,495 502,503 475,550 465,545"/>
</g>

<!-- Radars -->
<circle cx="1069" cy="1337" r="7.5" fill="#666"/>
<circle cx="1720" cy="1341" r="7.5" fill="#666"/>

<!-- Greys around the yellow beam -->
<g transform="translate(1150,1030) scale(.33333)">
<polygon class="g" points="350,140 400,45 435,72 375,135"/>
<polygon class="g" points="460,210 510,130 620,230 550,300 470,220"/>
<polygon class="g" points="228,345 265,270 340,320 310,380"/>
<polygon class="r" points="265,262 280,255 308,280 300,287"/>
<polygon class="g" points="322,475 400,370 480,470 450,530 405,510"/>
<polygon class="g" points="320,645 365,490 405,510 370,620 330,810 145,775 178,610"/>
<polygon class="g" points="430,600 455,530 500,545 560,640"/>
<polygon class="n" points="498,545 510,515 540,560"/>
<polygon class="r" points="565,645 570,630 580,650"/>
<polygon class="g" points="570,850 600,715 625,860"/>
<polygon class="g" points="800,420 820,345 852,375 815,425"/>
<polygon class="g" points="720,475 755,525 725,590 735,530"/>
</g>

<!-- Dashed centre -->
<polyline fill="none" stroke="#777" stroke-width="4" stroke-dasharray="30 11" points="1364,220 1391,1418"/>

<!-- YELLOW BEAM -->
<g transform="translate(1150,1030) scale(.33333)">
<polygon style="fill:#b0b0b0;stroke:#ffff00;stroke-width:3.5" points="72,140 130,5 245,55 200,135 238,155 287,77 345,113 318,150 352,177 382,140 437,183 408,215 435,245 470,215 555,302 522,337 583,418 623,388 655,440 685,420 655,370 693,340 655,290 692,262 612,170 650,128 743,235 705,262 745,315 705,345 732,388 775,362 815,430 730,475 760,530 715,552 725,590 770,700 803,902 645,922 620,790 590,660 530,540 460,430 370,320 270,240 180,185"/>
<polygon class="n" points="537,345 547,332 585,352 567,385"/>
<polygon class="r" points="588,350 622,295 662,318 625,377"/>
<path d="M723 205V260M723 350V870" stroke="#666" stroke-width="1.4" fill="none"/>
</g>
<g transform="translate(1250,950) scale(.33333)">
<polygon style="fill:#b0b0b0;stroke:#ffff00;stroke-width:3.5" points="398,90 420,62 488,118 450,158"/>
<polygon style="fill:#b0b0b0;stroke:#ffff00;stroke-width:3.5" points="422,197 477,250 510,210 470,180"/>
<polygon class="g" points="300,122 362,65 512,205 477,240 422,195 395,215"/>
<polygon class="g" points="70,560 175,465 210,505 105,600"/>
<polygon class="g" points="185,460 345,280 378,310 215,500"/>
<polygon class="g" points="440,40 480,75 545,30 595,100 500,180 450,155 490,120 420,62"/>
</g>

<!-- MAGENTA -->
<g class="M">
<path d="M952.5 486 Q1293 895 1702 1324 L1698 1324 Q1110 770 908 525 Z"/>
<path d="M1834 467 Q1526 889 1092 1323 Q1598 878 1884 506 Z"/>
</g>

<!-- Dark triangle -->
<polygon points="52,39 338,39 52,207" fill="#666"/>
</g>

<!-- Date text -->
<text x="62" y="67" font-size="33" textLength="229" lengthAdjust="spacingAndGlyphs">March, 23 2020</text>
<text x="62" y="95" font-size="33" textLength="172" lengthAdjust="spacingAndGlyphs">1816:41 UT</text>

<!-- Colorbar -->
<defs>
<linearGradient id="a1" x1="0" y1="0" x2="0" y2="1"><stop offset="0" stop-color="#c5e8ff"/><stop offset="1" stop-color="#2ea7f5"/></linearGradient>
<linearGradient id="a2" x1="0" y1="0" x2="0" y2="1"><stop offset="0" stop-color="#0fa0ff"/><stop offset="1" stop-color="#0a64d8"/></linearGradient>
<linearGradient id="a3" x1="0" y1="0" x2="0" y2="1"><stop offset="0" stop-color="#0a5ccc"/><stop offset="1" stop-color="#0a2a9c"/></linearGradient>
<linearGradient id="a4" x1="0" y1="0" x2="0" y2="1"><stop offset="0" stop-color="#0a2a9c"/><stop offset="1" stop-color="#000a85"/></linearGradient>
<linearGradient id="a5" x1="0" y1="0" x2="0" y2="1"><stop offset="0" stop-color="#8b0000"/><stop offset="1" stop-color="#a00000"/></linearGradient>
<linearGradient id="a6" x1="0" y1="0" x2="0" y2="1"><stop offset="0" stop-color="#a80000"/><stop offset="1" stop-color="#e0500a"/></linearGradient>
<linearGradient id="a7" x1="0" y1="0" x2="0" y2="1"><stop offset="0" stop-color="#ea5a00"/><stop offset="1" stop-color="#ff9a10"/></linearGradient>
<linearGradient id="a8" x1="0" y1="0" x2="0" y2="1"><stop offset="0" stop-color="#ffa040"/><stop offset="1" stop-color="#ffe0c0"/></linearGradient>
</defs>
<rect x="150.5" y="896" width="38" height="54" fill="url(#a1)"/>
<rect x="150.5" y="950" width="38" height="54" fill="url(#a2)"/>
<rect x="150.5" y="1004" width="38" height="55" fill="url(#a3)"/>
<rect x="150.5" y="1059" width="38" height="32" fill="url(#a4)"/>
<rect x="150.5" y="1091" width="38" height="43" fill="#c6c6c6"/>
<rect x="150.5" y="1134" width="38" height="33" fill="url(#a5)"/>
<rect x="150.5" y="1167" width="38" height="54" fill="url(#a6)"/>
<rect x="150.5" y="1221" width="38" height="54" fill="url(#a7)"/>
<rect x="150.5" y="1275" width="38" height="54" fill="url(#a8)"/>
<g stroke="#222" stroke-width="1">
<line x1="150.5" x2="188.5" y1="950" y2="950"/><line x1="150.5" x2="188.5" y1="1004" y2="1004"/><line x1="150.5" x2="188.5" y1="1059" y2="1059"/><line x1="150.5" x2="188.5" y1="1112" y2="1112"/><line x1="150.5" x2="188.5" y1="1167" y2="1167"/><line x1="150.5" x2="188.5" y1="1221" y2="1221"/><line x1="150.5" x2="188.5" y1="1275" y2="1275"/>
</g>
<rect x="150.5" y="896" width="38" height="433" fill="none" stroke="#222" stroke-width="1"/>
<text x="76" y="851" font-size="31" textLength="187" lengthAdjust="spacingAndGlyphs">Velocity (m/s)</text>
<g font-size="24" text-anchor="end">
<text x="137" y="896">100</text><text x="137" y="950">75</text><text x="137" y="1004">50</text><text x="137" y="1058">25</text><text x="137" y="1113">0</text><text x="137" y="1167">-25</text><text x="137" y="1221">-50</text><text x="137" y="1275">-75</text><text x="137" y="1329">-100</text>
</g>
<text x="202" y="916" font-size="24" textLength="76" lengthAdjust="spacingAndGlyphs">toward</text>
<text x="203" y="1092" font-size="24">10</text>
<text x="202" y="1155" font-size="24">-10</text>
<text x="202" y="1329" font-size="24">away</text>

<!-- Frequency -->
<text x="325" y="985" font-size="32" textLength="156" lengthAdjust="spacingAndGlyphs">Frequency</text>
<text x="291" y="1018" font-size="30" textLength="53" lengthAdjust="spacingAndGlyphs">cvw</text>
<text x="351" y="1018" font-size="30" textLength="47" lengthAdjust="spacingAndGlyphs">cve</text>
<text x="407" y="1018" font-size="30" textLength="49" lengthAdjust="spacingAndGlyphs">fhw</text>
<text x="466" y="1018" font-size="30" textLength="42" lengthAdjust="spacingAndGlyphs">fhe</text>
<g fill="none" stroke="#111" stroke-width="1">
<rect x="298.5" y="1030" width="38" height="299"/><rect x="355.5" y="1030" width="38" height="299"/><rect x="412" y="1030" width="38" height="299"/><rect x="469" y="1030" width="38" height="299"/>
<path d="M298 1060H336M298 1090H336M298 1120H336M298 1150H336M298 1180H336M298 1210H336M298 1240H336M298 1269H336M298 1299H336M355 1060H393M355 1090H393M355 1120H393M355 1150H393M355 1180H393M355 1210H393M355 1240H393M355 1269H393M355 1299H393M412 1060H450M412 1090H450M412 1120H450M412 1150H450M412 1180H450M412 1210H450M412 1240H450M412 1269H450M412 1299H450M469 1060H507M469 1090H507M469 1120H507M469 1150H507M469 1180H507M469 1210H507M469 1240H507M469 1269H507M469 1299H507"/>
</g>
<g fill="#ff4000">
<rect x="293" y="1126" width="49" height="4"/><rect x="350" y="1214" width="49" height="3.5"/><rect x="406" y="1214" width="50" height="3.5"/>
<rect x="463" y="1184" width="50" height="3"/><rect x="463" y="1193" width="50" height="3"/><rect x="469" y="1184" width="38" height="12"/>
</g>
<g font-size="27" text-anchor="end">
<text x="291" y="1042">18</text><text x="291" y="1072">17</text><text x="291" y="1102">16</text><text x="291" y="1132">15</text><text x="291" y="1162">14</text><text x="291" y="1192">13</text><text x="291" y="1222">12</text><text x="291" y="1252">11</text><text x="291" y="1281">10</text><text x="291" y="1311">9</text><text x="291" y="1341">8</text>
</g>
<g font-size="27" text-anchor="middle">
<text x="528" y="1042">18</text><text x="528" y="1072">17</text><text x="528" y="1102">16</text><text x="528" y="1132">15</text><text x="528" y="1162">14</text><text x="528" y="1192">13</text><text x="528" y="1222">12</text><text x="528" y="1252">11</text><text x="528" y="1281">10</text><text x="528" y="1311">9</text><text x="528" y="1341">8</text>
</g>

<!-- radar labels -->
<text x="1002" y="1393" font-size="32" textLength="56" lengthAdjust="spacingAndGlyphs">cvw</text>
<text x="1078" y="1393" font-size="32" textLength="50" lengthAdjust="spacingAndGlyphs">cve</text>
<text x="1078" y="1420" font-size="32" textLength="51" lengthAdjust="spacingAndGlyphs" style="fill:#ff00ff">b11</text>
<text x="1658" y="1396" font-size="32" textLength="53" lengthAdjust="spacingAndGlyphs">fhw</text>
<text x="1730" y="1396" font-size="32" textLength="45" lengthAdjust="spacingAndGlyphs">fhe</text>
<text x="1664" y="1423" font-size="32" textLength="54" lengthAdjust="spacingAndGlyphs" style="fill:#ff00ff">b12</text>
</svg>
</body></html>
